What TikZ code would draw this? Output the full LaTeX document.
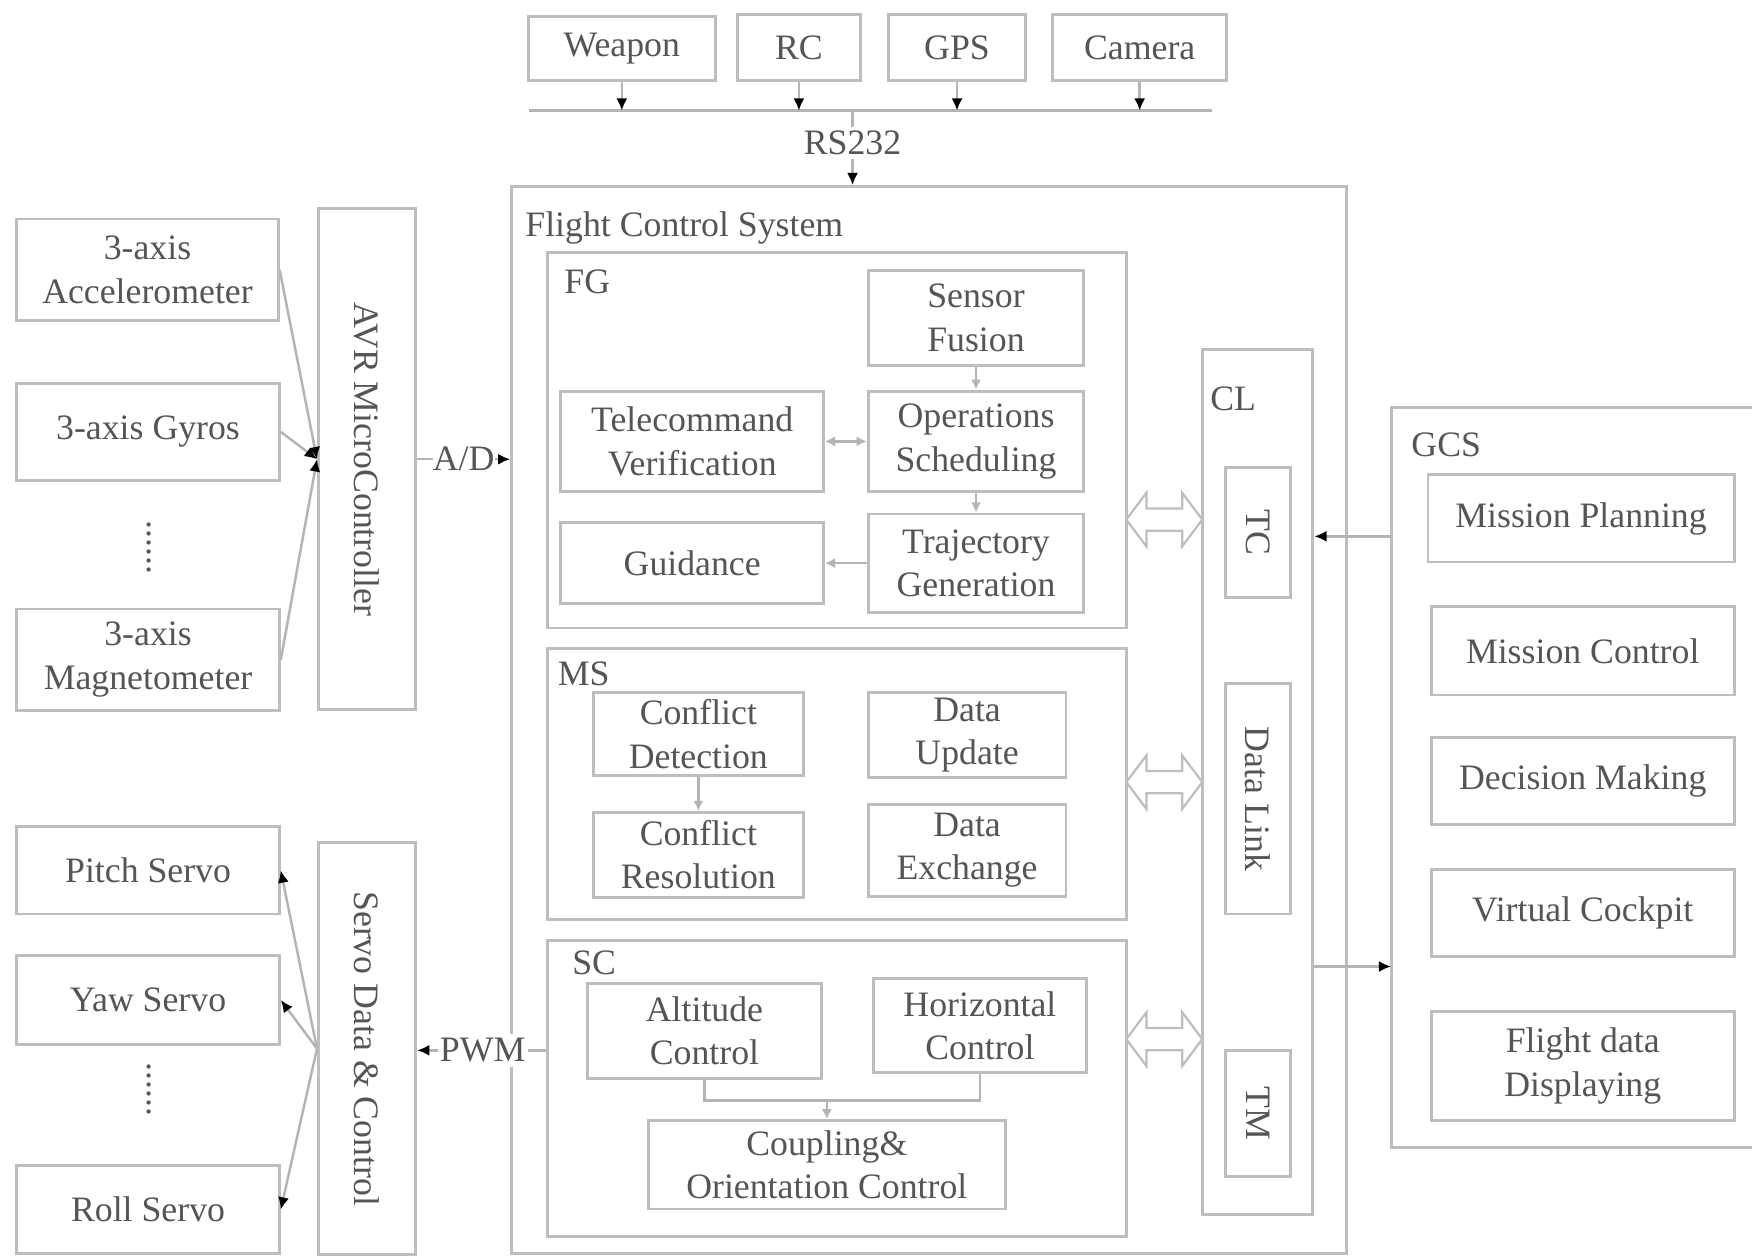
\documentclass[tikz,border=0pt]{standalone}
\usepackage{fontspec}
\setmainfont{Liberation Serif}
\usetikzlibrary{arrows.meta,calc}
\definecolor{boxc}{RGB}{190,190,190}
\definecolor{linec}{RGB}{180,180,180}
\definecolor{txtc}{RGB}{85,85,85}
\newcommand\dfs{\fontsize{32}{39}\selectfont}
\begin{document}
\begin{tikzpicture}[x=1pt,y=-1pt,
  box/.style={draw=boxc,line width=2.6pt,inner sep=0pt,align=center,text=txtc,font=\dfs},
  lbl/.style={inner sep=0pt,text=txtc,font=\dfs,anchor=west},
  txt/.style={inner sep=0pt,text=txtc,font=\dfs},
  conn/.style={draw=linec,line width=2.2pt},
  arr/.style={conn,-{Latex[black,length=11pt,width=10pt]}},
  garr/.style={conn,-{Latex[linec,length=9pt,width=9pt]}},
  dgarr/.style={conn,{Latex[linec,length=9pt,width=9pt]}-{Latex[linec,length=9pt,width=9pt]}},
  hollow/.style={draw=boxc,line width=2pt,fill=white},
]
\useasboundingbox (0,0) rectangle (1568,1125);
\fill[white] (0,0) rectangle (1568,1125);

% ---------- top peripherals ----------
\node[box,minimum width=167pt,minimum height=57pt] (weapon) at (556.5,43.5) {Weapon};
\node[box,minimum width=110pt,minimum height=59pt] (rc) at (715,42.5) {RC};
\node[box,minimum width=123pt,minimum height=59pt] (gps) at (856.5,42.5) {GPS};
\node[box,minimum width=156pt,minimum height=59pt] (camera) at (1020,42.5) {Camera};
\coordinate (busL) at (473,99);
\coordinate (busR) at (1085,99);
\draw[conn] (busL) -- (busR);
\foreach \n in {weapon,rc,gps,camera}
  \draw[arr] (\n.south) -- (\n.south |- busL);

% ---------- flight control system ----------
\node[box,minimum width=747pt,minimum height=955pt] (fcs) at (831.5,644.5) {};
\node[lbl] (fcslbl) at (470,204) {Flight Control System};
\node[txt,inner sep=3pt] (rs) at (763,128) {RS232};
\draw[conn] (rs.north) -- (rs.north |- busL);
\draw[arr] (rs.south) -- (rs.south |- fcs.north);

% FG
\node[box,minimum width=518pt,minimum height=336pt] (fg) at (749,394) {};
\node[lbl] (fglbl) at (505,252) {FG};
\node[box,minimum width=193pt,minimum height=85pt] (sf) at (873.5,284.5) {Sensor\\Fusion};
\node[box,minimum width=235pt,minimum height=90pt] (tv) at (619.5,395) {Telecommand\\Verification};
\node[box,minimum width=193pt,minimum height=90pt] (os) at (873.5,395) {Operations\\Scheduling};
\node[box,minimum width=235pt,minimum height=72pt] (gd) at (619.5,504) {Guidance};
\node[box,minimum width=193pt,minimum height=88pt] (tg) at (873.5,504) {Trajectory\\Generation};
\draw[garr] (sf.south) -- (os.north);
\draw[dgarr] (tv.east) -- (os.west);
\draw[garr] (os.south) -- (tg.north);
\draw[garr] (tg.west) -- (gd.east);

% MS
\node[box,minimum width=518pt,minimum height=243pt] (ms) at (749,701.5) {};
\node[lbl] (mslbl) at (499,603) {MS};
\node[box,minimum width=188pt,minimum height=74pt] (cd) at (625,657) {Conflict\\Detection};
\node[box,minimum width=177pt,minimum height=76pt] (du) at (865.5,658) {Data\\Update};
\node[box,minimum width=188pt,minimum height=76pt] (cr) at (625,765) {Conflict\\Resolution};
\node[box,minimum width=177pt,minimum height=82pt] (de) at (865.5,761) {Data\\Exchange};
\draw[garr] (cd.south) -- (cr.north);

% SC
\node[box,minimum width=518pt,minimum height=265pt] (sc) at (749,974.5) {};
\node[lbl] (sclbl) at (512,862) {SC};
\node[box,minimum width=209pt,minimum height=85pt] (ac) at (630.5,922.5) {Altitude\\Control};
\node[box,minimum width=190pt,minimum height=84pt] (hc) at (877,918) {Horizontal\\Control};
\node[box,minimum width=320pt,minimum height=79pt] (co) at (740,1042.5) {Coupling\&\\Orientation Control};
\coordinate (j) at (740,985);
\draw[conn] (ac.south) |- (j) -| (hc.south);
\draw[garr] (j) -- (co.north);

% CL
\node[box,minimum width=99pt,minimum height=774pt] (cl) at (1125.5,700) {};
\node[lbl] (cllbl) at (1083,357) {CL};
\node[box,minimum width=58pt,minimum height=117pt] (tc) at (1126,476.5) {};
\node[txt,rotate=-90] at (tc.center) {TC};
\node[box,minimum width=58pt,minimum height=206pt] (dl) at (1126,715) {};
\node[txt,rotate=-90] at (dl.center) {Data Link};
\node[box,minimum width=58pt,minimum height=113pt] (tm) at (1126,996.5) {};
\node[txt,rotate=-90] at (tm.center) {TM};

% hollow double arrows FG/MS/SC <-> CL
\foreach \yy in {465,700,930}
  \draw[hollow,shift={(1042,\yy)}] (-34,0) -- (-16,-24) -- (-16,-10) -- (16,-10) -- (16,-24)
     -- (34,0) -- (16,24) -- (16,10) -- (-16,10) -- (-16,24) -- cycle;

% ---------- GCS ----------
\draw[draw=boxc,line width=2.6pt] (1575,365) -- (1245,365) -- (1245,1027) -- (1575,1027);
\node[lbl] (gcslbl) at (1263,398) {GCS};
\node[box,minimum width=274pt,minimum height=78pt] (mp) at (1415,464) {Mission Planning};
\node[box,minimum width=271pt,minimum height=79pt] (mc) at (1416.5,582.5) {Mission Control};
\node[box,minimum width=271pt,minimum height=78pt] (dm) at (1416.5,699) {Decision Making};
\node[box,minimum width=271pt,minimum height=78pt] (vc) at (1416.5,817) {Virtual Cockpit};
\node[box,minimum width=271pt,minimum height=98pt] (fd) at (1416.5,954) {Flight data\\Displaying};
\coordinate (gcsA) at (1245,480);
\coordinate (gcsB) at (1245,865);
\draw[arr] (gcsA) -- (gcsA -| cl.east);
\draw[arr] (gcsB -| cl.east) -- (gcsB);

% ---------- sensors ----------
\node[box,minimum width=234pt,minimum height=91pt] (acc) at (132,241.5) {3-axis\\Accelerometer};
\node[box,minimum width=235pt,minimum height=87pt] (gyr) at (132.5,386.5) {3-axis Gyros};
\node[txt,rotate=-90] (dots1) at (133,490) {......};
\node[box,minimum width=235pt,minimum height=91pt] (mag) at (132.5,590.5) {3-axis\\Magnetometer};
\node[box,minimum width=87pt,minimum height=448pt] (avr) at (328.5,411) {};
\node[txt,rotate=-90] at (avr.center) {AVR MicroController};
\draw[arr] (acc.east) -- (avr.west);
\draw[arr] (gyr.east) -- (avr.west);
\draw[arr] (mag.east) -- (avr.west);
\node[txt] (ad) at (415,411) {A/D};
\draw[conn] (avr.east) -- (ad.west);
\draw[arr] (ad.east) -- (ad.east -| fcs.west);

% ---------- servos ----------
\node[box,minimum width=235pt,minimum height=78pt] (ps) at (132.5,779) {Pitch Servo};
\node[box,minimum width=235pt,minimum height=80pt] (ys) at (132.5,895) {Yaw Servo};
\node[txt,rotate=-90] (dots2) at (133,975) {......};
\node[box,minimum width=235pt,minimum height=79pt] (rs2) at (132.5,1082.5) {Roll Servo};
\node[box,minimum width=87pt,minimum height=369pt] (sdc) at (328.5,938.5) {};
\node[txt,rotate=-90] at (sdc.center) {Servo Data \& Control};
\draw[arr] (sdc.west) -- (ps.east);
\draw[arr] (sdc.west) -- (ys.east);
\draw[arr] (sdc.west) -- (rs2.east);
\node[txt,fill=white,inner xsep=2pt,inner ysep=4pt] (pwm) at (432,940) {PWM};
\draw[arr] (pwm.west) -- (pwm.west -| sdc.east);
\draw[conn] (pwm.east) -- (pwm.east -| sc.west);
\end{tikzpicture}
\end{document}
